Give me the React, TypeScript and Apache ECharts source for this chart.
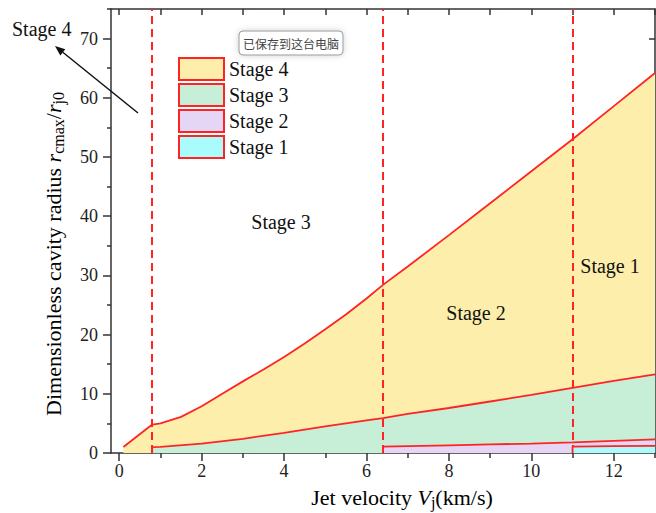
import React, { useEffect, useRef } from 'react';
import * as echarts from 'echarts';

// ---------- data ----------
const stageNames = ['Stage 4', 'Stage 3', 'Stage 2', 'Stage 1'];

const stage4X = [0.1, 0.8, 1.0, 1.5, 2.0, 2.5, 3.0, 3.5, 4.0, 4.5, 5.0, 5.5, 6.0, 6.4, 7, 8, 9, 10, 11, 12, 13];
const stage4Y = [1.0, 4.8, 5.0, 6.1, 7.9, 10.0, 12.1, 14.1, 16.2, 18.5, 20.9, 23.4, 26.1, 28.4, 31.5, 36.8, 42.2, 47.6, 53.0, 58.6, 64.2];

const stage3X = [0.8, 0.8, 1.0, 2, 3, 4, 5, 6, 6.4, 7, 8, 9, 10, 11, 12, 13];
const stage3Y = [0, 1.0, 1.05, 1.6, 2.4, 3.4, 4.5, 5.5, 5.9, 6.6, 7.6, 8.7, 9.8, 11.0, 12.2, 13.3];

const stage2X = [6.4, 6.4, 7, 8, 9, 10, 11, 12, 13];
const stage2Y = [0, 1.07, 1.15, 1.3, 1.45, 1.6, 1.8, 2.05, 2.3];

const stage1X = [11, 11, 12, 13];
const stage1Y = [0, 1.07, 1.15, 1.22];

const stageBoundaries = [0.8, 6.4, 11];

const xMajorTicks = [0, 2, 4, 6, 8, 10, 12];
const xMinorTicks = [1, 3, 5, 7, 9, 11, 13];
const xTopTicks = [0, 1, 2, 3, 4, 5, 6, 7, 8, 9, 10, 11, 12, 13];
const yMajorTicks = [0, 10, 20, 30, 40, 50, 60, 70];
const yMinorTicks = [5, 15, 25, 35, 45, 55, 65, 75];
const yRightTicks = [10, 20, 30, 40, 50, 60, 70];

// ---------- styles ----------
const stageColors = ['#fdeeab', '#c7eed6', '#e5d6f6', '#aafcfc'];
const RED = '#ff2424';
const AXIS = '#333';
const SERIF = 'Liberation Serif';

const zip = (xs: number[], ys: number[]) => xs.map((x, i) => [x, ys[i]]);

export default function App() {
  const ref = useRef<HTMLDivElement>(null);

  useEffect(() => {
    if (!ref.current) return;
    const chart = echarts.init(ref.current, undefined, { renderer: 'svg' });

    const xs = [stage4X, stage3X, stage2X, stage1X];
    const ys = [stage4Y, stage3Y, stage2Y, stage1Y];

    const baseX = { type: 'value', min: -0.2, max: 13, splitLine: { show: false } };
    const baseY = { type: 'value', min: 0, max: 75, splitLine: { show: false } };
    const axisLine = { show: true, onZero: false, lineStyle: { color: AXIS, width: 1.5 } };
    const noLine = { show: false, onZero: false };

    // arrow geometry
    const tail = [138, 113];
    const tip = [55, 46];
    const dx = tip[0] - tail[0];
    const dy = tip[1] - tail[1];
    const len = Math.sqrt(dx * dx + dy * dy);
    const ux = dx / len, uy = dy / len;
    const hl = 10, hw = 4;
    const bx = tip[0] - ux * hl, by = tip[1] - uy * hl;
    const head = [
      [tip[0], tip[1]],
      [bx - uy * hw, by + ux * hw],
      [bx + uy * hw, by - ux * hw],
    ];

    const nameRich = {
      a: { fontFamily: SERIF, fontSize: 22, lineHeight: 26, color: '#111' },
      i: { fontFamily: SERIF, fontSize: 22, lineHeight: 26, fontStyle: 'italic', color: '#111' },
      s: { fontFamily: SERIF, fontSize: 16, lineHeight: 12, verticalAlign: 'bottom', color: '#111' },
    };

    const stageLabel = (text: string, x: number, y: number, align = 'center') => ({
      type: 'text',
      x,
      y,
      z: 100,
      style: {
        text,
        fontFamily: SERIF,
        fontSize: 20,
        fill: '#111',
        align,
        verticalAlign: 'middle',
      },
    });

    chart.setOption({
      animation: false,
      backgroundColor: '#fff',
      textStyle: { fontFamily: SERIF },
      grid: { left: 111, right: 1, top: 9, bottom: 60, containLabel: false },
      legend: {
        orient: 'vertical',
        left: 178,
        top: 57,
        itemWidth: 45,
        itemHeight: 22,
        itemGap: 2,
        padding: 0,
        selectedMode: false,
        textStyle: { fontFamily: SERIF, fontSize: 20, color: '#111' },
        data: stageNames.map((n, i) => ({
          name: n,
          icon: 'rect',
          itemStyle: { color: stageColors[i], borderColor: RED, borderWidth: 2 },
          textStyle: { fontFamily: SERIF, fontSize: 20, color: '#111' },
        })),
      },
      xAxis: [
        {
          ...baseX,
          position: 'bottom',
          axisLine,
          axisTick: { show: true, customValues: xMajorTicks, length: 8, lineStyle: { color: AXIS, width: 1.5 } },
          axisLabel: { customValues: xMajorTicks, margin: 9, fontFamily: SERIF, fontSize: 18, color: '#222' },
        },
        {
          ...baseX,
          position: 'bottom',
          axisLine: noLine,
          axisTick: { show: true, customValues: xMinorTicks, length: 5, lineStyle: { color: AXIS, width: 1.5 } },
          axisLabel: { show: false },
        },
        {
          ...baseX,
          position: 'top',
          axisLine,
          axisTick: { show: true, inside: true, customValues: xTopTicks, length: 6, lineStyle: { color: AXIS, width: 1.5 } },
          axisLabel: { show: false },
        },
      ],
      yAxis: [
        {
          ...baseY,
          position: 'left',
          axisLine,
          axisTick: { show: true, customValues: yMajorTicks, length: 8, lineStyle: { color: AXIS, width: 1.5 } },
          axisLabel: { customValues: yMajorTicks, margin: 13, fontFamily: SERIF, fontSize: 18, color: '#222' },
        },
        {
          ...baseY,
          position: 'left',
          axisLine: noLine,
          axisTick: { show: true, customValues: yMinorTicks, length: 4, lineStyle: { color: AXIS, width: 1.5 } },
          axisLabel: { show: false },
        },
        {
          ...baseY,
          position: 'right',
          axisLine,
          axisTick: { show: true, inside: true, customValues: yRightTicks, length: 6, lineStyle: { color: AXIS, width: 1.5 } },
          axisLabel: { show: false },
        },
      ],
      series: [
        ...stageNames.map((name, i) => ({
          name,
          type: 'line',
          xAxisIndex: 0,
          yAxisIndex: 0,
          data: zip(xs[i], ys[i]),
          showSymbol: false,
          symbol: 'none',
          z: 2 + i,
          lineStyle: { color: RED, width: 1.8 },
          itemStyle: { color: stageColors[i] },
          areaStyle: { color: stageColors[i], opacity: 1, origin: 'start' },
        })),
        {
          name: 'boundaries',
          type: 'line',
          xAxisIndex: 0,
          yAxisIndex: 0,
          data: [],
          z: 20,
          markLine: {
            silent: true,
            symbol: ['none', 'none'],
            label: { show: false },
            lineStyle: { color: RED, type: [8, 5], width: 2 },
            data: stageBoundaries.map((v) => ({ xAxis: v })),
          },
        },
      ],
      graphic: [
        {
          type: 'text',
          x: 402,
          y: 497,
          z: 100,
          style: {
            text: '{a|Jet velocity }{i|V}{s|j}{a|(km/s)}',
            rich: nameRich,
            align: 'center',
            verticalAlign: 'middle',
          },
        },
        {
          type: 'text',
          x: 53,
          y: 254,
          rotation: Math.PI / 2,
          z: 100,
          style: {
            text: '{a|Dimensionless cavity radius }{i|r}{s|cmax}{a|/}{i|r}{s|j0}',
            rich: nameRich,
            align: 'center',
            verticalAlign: 'middle',
          },
        },
        stageLabel('Stage 4', 12, 29, 'left'),
        stageLabel('Stage 3', 281, 222),
        stageLabel('Stage 2', 476, 313),
        stageLabel('Stage 1', 610, 266),
        {
          type: 'line',
          z: 100,
          shape: { x1: tail[0], y1: tail[1], x2: bx, y2: by },
          style: { stroke: '#111', lineWidth: 1.5 },
        },
        {
          type: 'polygon',
          z: 100,
          shape: { points: head },
          style: { fill: '#111' },
        },
        {
          type: 'group',
          x: 239,
          y: 31,
          z: 100,
          children: [
            {
              type: 'rect',
              z: 100,
              shape: { x: 0, y: 0, width: 104, height: 24, r: 4 },
              style: {
                fill: '#fff',
                stroke: '#9a9a9a',
                lineWidth: 1,
                shadowBlur: 6,
                shadowColor: 'rgba(0,0,0,0.18)',
              },
            },
            {
              type: 'text',
              z: 101,
              x: 52,
              y: 12,
              style: {
                text: '已保存到这台电脑',
                fontFamily: 'Noto Sans CJK SC',
                fontSize: 12,
                fill: '#444',
                align: 'center',
                verticalAlign: 'middle',
              },
            },
          ],
        },
      ],
    });

    return () => chart.dispose();
  }, []);

  return (
    <div
      ref={ref}
      style={{ position: 'fixed', left: 0, top: 0, width: 656, height: 513 }}
    />
  );
}
